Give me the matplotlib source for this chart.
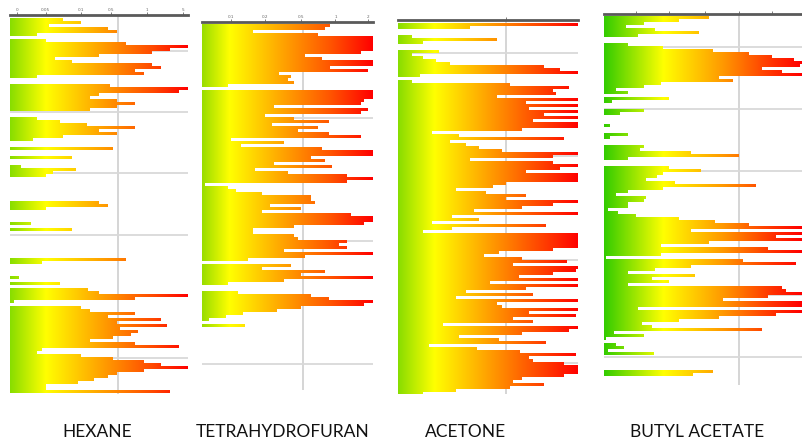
import matplotlib.pyplot as plt
import numpy as np
from matplotlib.colors import LinearSegmentedColormap
from matplotlib.path import Path
from matplotlib.patches import PathPatch

# bar lengths per row (percent of axis width), top row first
hexane = [30, 40, 22, 55, 60, 15, 0, 20, 65, 100, 90, 80, 50, 25, 35, 80, 85, 70, 75, 15,
          0, 0, 56, 100, 95, 50, 45, 60, 70, 60, 45, 0, 0, 15, 28, 43, 70, 50, 60, 30,
          13, 0, 0, 58, 0, 0, 35, 0, 0, 6, 37, 24, 20, 0, 0, 0, 0, 0, 0, 0,
          0, 50, 55, 20, 0, 0, 0, 0, 12, 0, 35, 0, 0, 0, 0, 0, 0, 0, 0, 0,
          65, 18, 0, 0, 0, 0, 5, 0, 28, 0, 44, 50, 100, 70, 2, 0, 40, 45, 70, 55,
          85, 60, 88, 62, 72, 68, 58, 45, 70, 95, 18, 15, 40, 58, 75, 85, 100, 75, 60, 55,
          47, 38, 20, 20, 90]
thf = [75, 72, 30, 68, 100, 100, 100, 100, 100, 93, 60, 70, 100, 100, 75, 97, 45, 52, 50, 54,
       15, 0, 100, 100, 100, 95, 93, 42, 97, 93, 37, 54, 74, 41, 68, 56, 74, 93, 17, 48,
       23, 70, 100, 100, 64, 72, 42, 76, 31, 50, 85, 100, 85, 2, 15, 20, 35, 64, 64, 66,
       40, 58, 35, 87, 100, 100, 95, 54, 30, 30, 54, 56, 85, 80, 85, 48, 100, 60, 27, 0,
       52, 35, 72, 58, 100, 48, 15, 0, 0, 21, 64, 74, 100, 95, 58, 44, 24, 14, 4, 0,
       25]
acetone = [100, 40, 0, 0, 8, 55, 14, 0, 0, 23, 8, 14, 21, 29, 81, 90, 100, 12, 0, 8,
           62, 95, 86, 88, 55, 100, 71, 100, 73, 100, 81, 100, 75, 100, 100, 69, 19, 34, 92, 29,
           38, 45, 58, 100, 86, 40, 86, 100, 90, 71, 100, 100, 100, 60, 53, 32, 49, 71, 60, 100,
           86, 69, 42, 100, 30, 45, 19, 82, 30, 14, 100, 100, 100, 100, 100, 86, 56, 48, 69, 94,
           64, 100, 99, 86, 67, 100, 51, 100, 71, 38, 75, 32, 100, 55, 58, 100, 73, 99, 64, 75,
           25, 100, 95, 69, 34, 56, 82, 17, 44, 68, 99, 73, 75, 92, 100, 100, 100, 92, 69, 64,
           81, 62, 32, 14]
butyl = [53, 38, 20, 11, 26, 48, 17, 0, 0, 12, 30, 55, 73, 85, 96, 100, 99, 80, 90, 100,
         58, 65, 29, 20, 6, 12, 0, 33, 4, 0, 0, 20, 8, 0, 0, 0, 3, 0, 0, 12,
         3, 0, 0, 20, 18, 44, 68, 12, 0, 0, 33, 49, 30, 27, 21, 36, 77, 30, 12, 6,
         21, 20, 12, 12, 2, 7, 16, 38, 56, 73, 100, 44, 100, 87, 100, 53, 29, 83, 100, 29,
         1, 70, 97, 44, 26, 12, 46, 24, 33, 12, 90, 92, 100, 83, 60, 100, 100, 17, 100, 87,
         58, 38, 19, 24, 80, 5, 20, 1, 0, 6, 10, 2, 25, 0, 0, 0, 0, 0, 55, 45]

names = ['HEXANE', 'TETRAHYDROFURAN', 'ACETONE', 'BUTYL ACETATE']
series = [hexane, thf, acetone, butyl]

W, H = 802, 441
fig = plt.figure(figsize=(W / 100, H / 100), dpi=100)

# layout in pixels: x0, x1, axis top, axis bottom, first row y, row height, gridline x frac, gridline ys
layout = [
    dict(x=(10, 188), y=(15, 394), r0=18, grid_x=0.607, grid_y=[50.5, 112, 173, 235, 296, 358],
         ticks=[0.04, 0.2, 0.4, 0.57, 0.77, 0.97], labels=['0', '0.05', '0.1', '0.5', '1', '5'],
         stops=[(0, '#88dd00'), (0.2, '#ffff00'), (0.5, '#ffa500'), (0.8, '#ff4a00'), (1, '#ff0000')],
         label_x=97),
    dict(x=(202, 373), y=(22, 390), r0=24, grid_x=0.59, grid_y=[118, 241, 364],
         ticks=[0.17, 0.37, 0.58, 0.78, 0.97], labels=['0.1', '0.2', '0.5', '1', '2'],
         stops=[(0, '#99dd00'), (0.16, '#ffff00'), (0.45, '#ffaa00'), (0.75, '#ff5500'), (1, '#ff0000')],
         label_x=283),
    dict(x=(398, 578), y=(20, 394), r0=23, grid_x=0.60, grid_y=[53, 156, 260, 363],
         ticks=[0.60], labels=[''],
         stops=[(0, '#88dd00'), (0.2, '#ffff00'), (0.5, '#ffa000'), (0.8, '#ff4000'), (1, '#ff0000')],
         label_x=466),
    dict(x=(604, 802), y=(14, 385), r0=16, grid_x=0.68, grid_y=[47, 109, 171, 233, 295, 357],
         ticks=[0.16, 0.33, 0.51, 0.68, 0.85], labels=['', '', '', '', ''],
         stops=[(0, '#33cc00'), (0.3, '#ffff00'), (0.6, '#ff9900'), (0.85, '#ff3300'), (1, '#ff0000')],
         label_x=697),
]

rh = 3.0
grad = np.linspace(0, 1, 256).reshape(1, -1)

for name, vals, lay in zip(names, series, layout):
    x0, x1 = lay['x']
    t, b = lay['y']
    ax = fig.add_axes([x0 / W, 1 - b / H, (x1 - x0) / W, (b - t) / H])
    rows = np.arange(len(vals))
    top = (t - lay['r0']) / rh
    bot = (b - lay['r0']) / rh
    ax.set_xlim(0, 1)
    ax.set_ylim(bot, top)

    bars = ax.barh(rows, np.array(vals) / 100.0, height=1.0, align='edge',
                   color='none', edgecolor='none')
    paths = [p.get_path().transformed(p.get_patch_transform()) for p in bars if p.get_width() > 0]
    clip = PathPatch(Path.make_compound_path(*paths), transform=ax.transData,
                     fc='none', ec='none')
    ax.add_patch(clip)
    cmap = LinearSegmentedColormap.from_list(name, lay['stops'])
    im = ax.imshow(grad, cmap=cmap, aspect='auto', extent=(0, 1, bot, top),
                   interpolation='bilinear', zorder=2)
    im.set_clip_path(clip)
    ax.set_ylim(bot, top)

    ax.axvline(lay['grid_x'], color='#d2d2d2', lw=1.3, zorder=0)
    for gy in lay['grid_y']:
        ax.axhline((gy - lay['r0']) / rh, color='#d9d9d9', lw=1.3, zorder=0)

    for s in ['left', 'right', 'bottom']:
        ax.spines[s].set_visible(False)
    ax.spines['top'].set_color('#5a5a5a')
    ax.spines['top'].set_linewidth(2)
    ax.xaxis.tick_top()
    ax.set_xticks(lay['ticks'])
    ax.set_xticklabels(lay['labels'], fontsize=3, color='#666666')
    ax.tick_params(axis='x', length=2, width=0.6, pad=0.5, colors='#666666')
    ax.set_yticks([])

    fig.text(lay['label_x'] / W, 1 - 432 / H, name, ha='center', va='center',
             fontsize=12.5, family='Lato', color='#111111')

fig.savefig('out.png', dpi=100)
